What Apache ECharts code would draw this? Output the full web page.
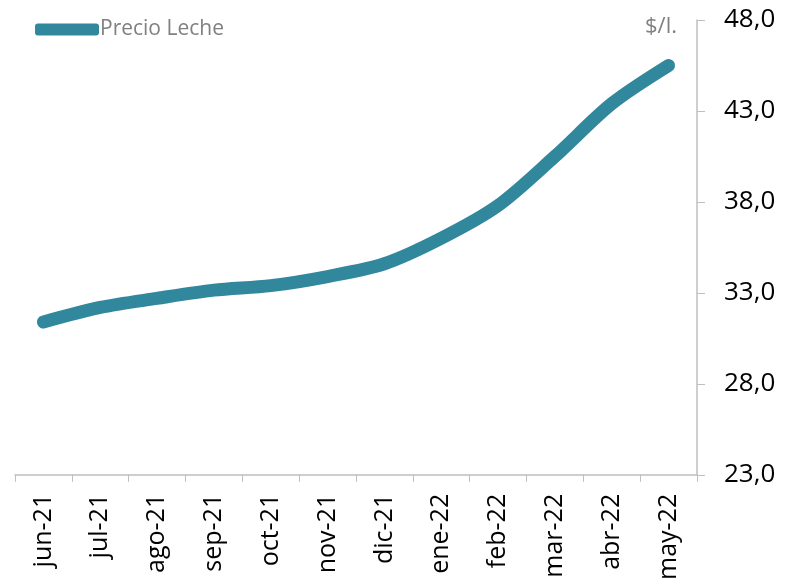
<!DOCTYPE html>
<html>
<head>
<meta charset="utf-8">
<script src="https://cdn.jsdelivr.net/npm/echarts@6/dist/echarts.min.js"></script>
<style>
  html, body { margin: 0; padding: 0; background: #fff; }
  #main { width: 785px; height: 583px; }
</style>
</head>
<body>
<div id="main"></div>
<script>
var meses = ['jun-21', 'jul-21', 'ago-21', 'sep-21', 'oct-21', 'nov-21',
             'dic-21', 'ene-22', 'feb-22', 'mar-22', 'abr-22', 'may-22'];
var precioLeche = [31.4, 32.2, 32.7, 33.15, 33.4, 33.9, 34.6, 36.0, 37.8, 40.5, 43.4, 45.5];

var myChart = echarts.init(document.getElementById('main'));
var option = {
    backgroundColor: '#fff',
    textStyle: { fontFamily: 'Open Sans' },
    legend: {
        left: 30,
        top: 14,
        itemWidth: 64,
        itemHeight: 12,
        itemGap: 0,
        textStyle: { color: '#808080', fontSize: 21, fontFamily: 'Open Sans', padding: [0, 0, 0, -4] },
        data: [{ name: 'Precio Leche', icon: 'roundRect' }]
    },
    graphic: [{
        type: 'text',
        left: 645,
        top: 16,
        style: { text: '$/l.', fill: '#808080', font: '22px "Open Sans"' }
    }],
    grid: { left: 15, right: 88, top: 20, bottom: 106 },
    xAxis: {
        type: 'category',
        data: meses,
        boundaryGap: true,
        axisLine: { lineStyle: { color: '#BFBFBF', width: 1.5 } },
        axisTick: { show: true, length: 7, lineStyle: { color: '#BFBFBF' } },
        axisLabel: { rotate: 90, color: '#000', fontSize: 25, margin: 19, fontFamily: 'Open Sans' }
    },
    yAxis: {
        type: 'value',
        position: 'right',
        min: 23,
        max: 48,
        interval: 5,
        splitLine: { show: false },
        axisLine: { show: true, lineStyle: { color: '#BFBFBF', width: 1.5 } },
        axisTick: { show: true, length: 8, lineStyle: { color: '#BFBFBF' } },
        axisLabel: {
            color: '#000',
            fontSize: 26,
            margin: 27,
            fontFamily: 'Open Sans',
            formatter: function (v) { return v.toFixed(1).replace('.', ','); }
        }
    },
    series: [{
        name: 'Precio Leche',
        type: 'line',
        data: precioLeche,
        smooth: 0.3,
        showSymbol: false,
        symbol: 'none',
        lineStyle: { color: '#31879C', width: 13, cap: 'round', join: 'round' },
        itemStyle: { color: '#31879C' }
    }]
};
myChart.setOption(option);
</script>
</body>
</html>
